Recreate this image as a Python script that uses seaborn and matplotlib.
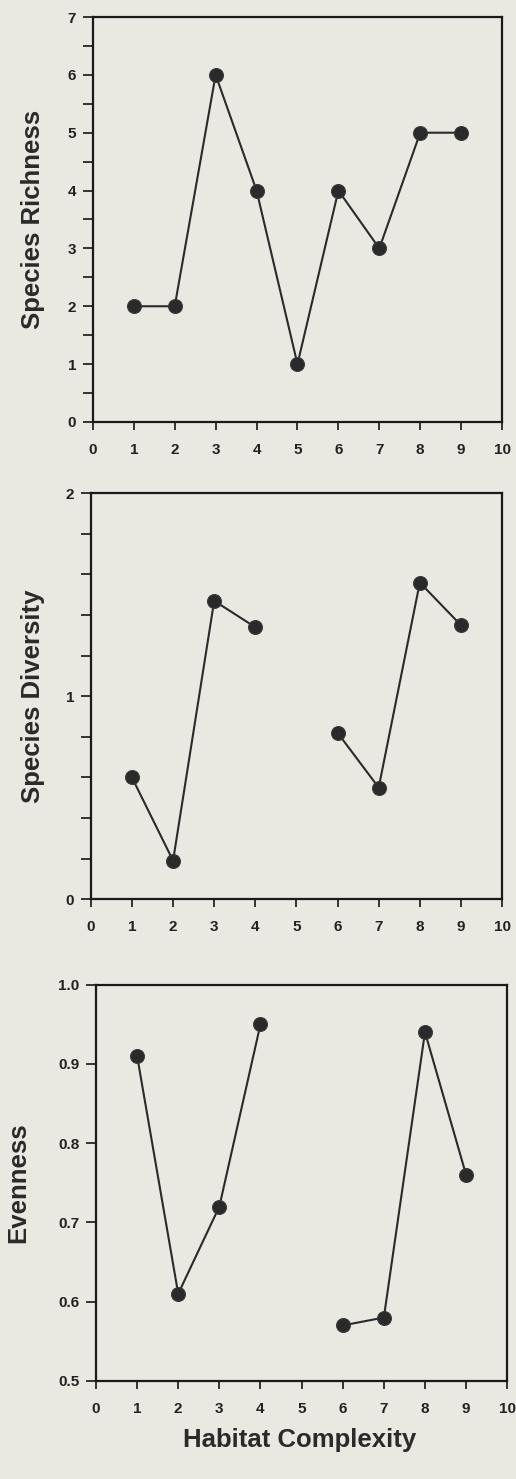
import numpy as np
import pandas as pd
import seaborn as sns
import matplotlib.pyplot as plt
from matplotlib.ticker import MultipleLocator

complexity = [1, 2, 3, 4, 5, 6, 7, 8, 9]
richness = [2, 2, 6, 4, 1, 4, 3, 5, 5]

complexity_sub = [1, 2, 3, 4, 6, 7, 8, 9]
diversity = [0.60, 0.19, 1.47, 1.34, 0.82, 0.55, 1.56, 1.35]
evenness = [0.91, 0.61, 0.72, 0.95, 0.57, 0.58, 0.94, 0.76]

bg = "#e9e9e2"
ink = "#2a2a2a"

sns.set_theme(style="ticks")
plt.rcParams["font.family"] = ["Liberation Sans", "DejaVu Sans"]
plt.rcParams["figure.facecolor"] = bg
plt.rcParams["axes.facecolor"] = bg

# break the line where a complexity level is missing
seg = np.cumsum(np.diff(complexity_sub, prepend=complexity_sub[0]) > 1)
df1 = pd.DataFrame({"x": complexity, "y": richness, "seg": 0})
df2 = pd.DataFrame({"x": complexity_sub, "y": diversity, "seg": seg})
df3 = pd.DataFrame({"x": complexity_sub, "y": evenness, "seg": seg})

fig = plt.figure(figsize=(5.16, 14.79), dpi=100)
ax1 = fig.add_axes([0.180, 0.7147, 0.793, 0.2738])
ax2 = fig.add_axes([0.176, 0.392, 0.797, 0.2745])
ax3 = fig.add_axes([0.186, 0.0663, 0.797, 0.268])

panels = [
    (ax1, df1, "Species Richness", (0, 7), 1, 0.5, 33),
    (ax2, df2, "Species Diversity", (0, 2), 1, 0.2, 33),
    (ax3, df3, "Evenness", (0.5, 1.0), 0.1, None, 18),
]

for ax, df, label, ylim, major, minor, labx in panels:
    sns.lineplot(data=df, x="x", y="y", units="seg", estimator=None,
                 color=ink, linewidth=1.5, marker="o", markersize=10,
                 markeredgecolor="#3a3a3a", markeredgewidth=0.8, ax=ax)
    ax.set_xlim(0, 10)
    ax.set_ylim(*ylim)
    ax.xaxis.set_major_locator(MultipleLocator(1))
    ax.yaxis.set_major_locator(MultipleLocator(major))
    if minor:
        ax.yaxis.set_minor_locator(MultipleLocator(minor))
    for s in ax.spines.values():
        s.set_linewidth(1.6)
        s.set_color("#1a1a1a")
    ax.tick_params(axis="x", which="major", length=6, width=1.3, pad=9,
                   labelsize=11, direction="out")
    ax.tick_params(axis="y", which="both", length=7, width=1.3, pad=5,
                   labelsize=11, direction="out")
    if major < 1:
        ax.yaxis.set_major_formatter(plt.FormatStrFormatter("%.1f"))
    for t in ax.get_xticklabels() + ax.get_yticklabels():
        t.set_fontweight("bold")
        t.set_color("#222222")
    ax.set_xlabel("")
    ax.set_ylabel("")
    pos = ax.get_position()
    fig.text(labx / 516, (pos.y0 + pos.y1) / 2, label, rotation=90,
             ha="center", va="center", fontsize=18.5, fontweight="bold",
             color="#2a2a2a")

fig.text(300 / 516, 1 - 1440 / 1479, "Habitat Complexity", ha="center",
         va="center", fontsize=18.5, fontweight="bold", color="#2a2a2a")

fig.savefig("out.png", dpi=100, facecolor=bg)
